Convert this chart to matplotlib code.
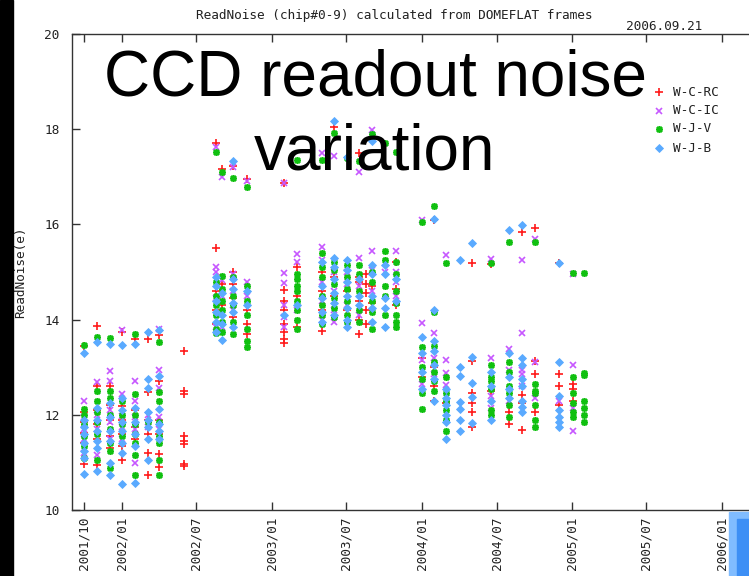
import matplotlib
matplotlib.use('Agg')
import matplotlib.pyplot as plt
import matplotlib.dates as mdates
from matplotlib.lines import Line2D
from matplotlib.patches import Rectangle
import datetime as dt

# ---------------- data ----------------
epochs = ['2001-10-01', '2001-11-02', '2001-12-02', '2002-01-01', '2002-02-02', '2002-03-04',
          '2002-04-02', '2002-06-01', '2002-08-17', '2002-09-01', '2002-09-29', '2002-11-02',
          '2003-01-31', '2003-03-02', '2003-05-02', '2003-06-01', '2003-07-02', '2003-08-01',
          '2003-08-17', '2003-09-01', '2003-10-03', '2003-10-31', '2004-01-02', '2004-01-31',
          '2004-03-01', '2004-04-03', '2004-05-01', '2004-06-17', '2004-07-31', '2004-08-31',
          '2004-10-03', '2004-12-01', '2005-01-02', '2005-01-31']

rc_values = [
    [13.45, 12.05, 11.85, 11.62, 11.4, 10.97],
    [13.87, 12.6, 12.1, 11.8, 11.5, 10.95],
    [12.6, 12.2, 11.9, 11.55, 11.3],
    [13.75, 12.19, 11.9, 11.6, 11.35, 11.04],
    [13.6, 12.1, 11.75, 11.5],
    [13.59, 12.47, 11.9, 11.6, 11.2, 10.74],
    [13.67, 12.71, 11.9, 11.6, 11.17, 10.91],
    [13.35, 12.5, 12.43, 11.55, 11.46, 11.38, 10.97, 10.92],
    [17.72, 15.5, 14.6, 14.2, 13.9],
    [17.17, 14.75, 14.3],
    [17.22, 15.0, 14.75, 14.45, 14.05],
    [16.95, 14.2, 13.9, 13.7],
    [16.88, 14.62, 14.4, 14.2, 13.9, 13.75, 13.6, 13.5],
    [15.1, 14.5, 13.85],
    [15.0, 14.6, 14.2, 13.77],
    [18.05, 14.9, 14.5],
    [14.6, 14.2],
    [17.49, 14.9, 14.8, 14.4, 14.0, 13.7],
    [14.95, 14.75, 14.55, 14.2, 13.9],
    [14.7, 14.35],
    [],
    [15.2, 14.65, 14.3],
    [13.2, 12.8],
    [16.09, 13.0, 12.6, 12.28],
    [12.25],
    [],
    [15.18, 13.13, 12.46, 12.24, 12.05, 11.75],
    [15.16, 12.5],
    [12.05, 11.8],
    [15.85, 12.42, 12.25, 11.68],
    [15.92, 13.12, 12.85, 12.05],
    [15.18, 12.85, 12.6, 12.2],
    [12.65, 12.55, 12.3],
    [],
]

ic_values = [
    [12.28, 11.95, 11.7, 11.5, 11.2],
    [12.68, 12.0, 11.7, 11.15],
    [12.91, 12.71, 12.1, 11.85, 11.5],
    [13.78, 12.43, 11.97, 11.75, 11.5],
    [12.71, 12.28, 11.95, 11.7, 10.99],
    [12.0, 11.75],
    [13.8, 12.94, 12.57, 11.95, 11.7],
    [],
    [17.62, 15.1, 15.0, 14.45, 13.85],
    [17.0, 14.83, 14.5, 13.85],
    [17.2, 14.95, 14.6, 14.2],
    [16.92, 14.79, 14.5],
    [16.86, 14.97, 14.76, 14.3, 14.05, 13.85],
    [15.37, 15.2, 14.2],
    [17.5, 15.52, 15.25, 14.8, 14.4, 14.0],
    [17.43, 15.0, 14.6, 14.2, 13.95],
    [15.0, 14.75, 14.3],
    [17.1, 15.29, 14.7, 14.1],
    [],
    [17.98, 15.45, 15.05, 14.6],
    [15.0],
    [15.45, 15.0, 14.8, 14.5],
    [16.09, 13.92, 13.15, 12.65],
    [13.71, 13.2, 12.85],
    [15.36, 13.15, 12.88, 12.63],
    [],
    [],
    [15.28, 13.2, 12.4, 12.15],
    [13.38, 12.95, 12.3],
    [15.25, 13.71, 12.95, 12.85, 12.6],
    [15.7, 13.1, 12.35],
    [12.3],
    [14.95, 13.04, 12.15, 11.65],
    [],
]

v_values = [
    [13.47, 12.13, 12.0, 11.8, 11.55, 11.35, 11.1],
    [13.64, 12.5, 12.3, 12.05, 11.85, 11.6, 11.04],
    [13.61, 12.5, 12.35, 12.0, 11.7, 11.4, 11.25, 10.88],
    [12.3, 12.0, 11.8, 11.55],
    [13.7, 12.43, 12.0, 11.8, 11.6, 11.4, 11.15, 10.74],
    [11.85],
    [13.52, 12.47, 12.3, 11.85, 11.55, 11.4, 11.04, 10.73],
    [],
    [17.53, 14.8, 14.5, 14.3, 14.1, 13.8, 13.72],
    [17.1, 14.92, 14.65, 14.4, 14.2, 13.95, 13.75],
    [16.98, 14.9, 14.5, 14.3, 13.95, 13.7],
    [16.78, 14.7, 14.4, 14.1, 13.8, 13.55, 13.43],
    [],
    [17.35, 14.95, 14.85, 14.7, 14.6, 14.4, 14.2, 14.0, 13.8],
    [17.35, 15.4, 15.1, 14.9, 14.5, 14.3, 14.1, 13.9],
    [17.91, 15.22, 15.05, 14.75, 14.45, 14.25, 14.05],
    [17.4, 15.15, 14.9, 14.65, 14.4, 14.1, 13.95],
    [17.33, 15.15, 14.95, 14.6, 14.2, 13.95],
    [],
    [17.9, 15.0, 14.8, 14.4, 14.15, 13.8],
    [17.7, 15.45, 15.25, 14.7, 14.5, 14.1],
    [17.53, 15.2, 14.95, 14.6, 14.35, 14.1, 13.95, 13.85],
    [16.05, 13.43, 13.0, 12.75, 12.45, 12.13],
    [16.39, 14.17, 13.45, 13.1, 12.9, 12.7, 12.5],
    [15.18, 12.8, 12.45, 12.3, 12.1, 11.9, 11.65],
    [],
    [],
    [15.18, 13.05, 12.8, 12.7, 12.55, 12.1, 12.0],
    [15.64, 13.1, 12.9, 12.6, 12.45, 12.2, 11.95],
    [],
    [15.64, 12.65, 12.5, 12.45, 12.2, 11.9, 11.75],
    [],
    [14.97, 12.8, 12.45, 12.25, 12.05, 11.95],
    [14.97, 12.88, 12.83, 12.3, 12.15, 12.0, 11.85],
]

b_values = [
    [13.29, 11.9, 11.75, 11.6, 11.4, 11.25, 11.1, 10.76],
    [13.52, 12.15, 11.9, 11.65, 11.45, 11.3, 10.81],
    [13.49, 12.25, 11.95, 11.65, 11.45, 10.99, 10.74],
    [13.47, 12.35, 12.1, 11.85, 11.65, 11.4, 11.2, 10.55],
    [13.49, 12.15, 11.85, 11.6, 11.35, 10.57],
    [13.73, 12.75, 12.56, 12.05, 11.9, 11.75, 11.5, 11.06],
    [13.78, 12.82, 12.13, 11.8, 11.65, 11.5],
    [],
    [14.9, 14.7, 14.4, 14.15, 13.95, 13.75],
    [14.55, 14.1, 13.9, 13.57],
    [17.33, 14.85, 14.65, 14.35, 14.15, 13.85],
    [14.6, 14.3],
    [14.1],
    [14.3],
    [15.2, 14.7, 14.45, 14.15, 13.95],
    [18.18, 15.3, 15.1, 14.85, 14.55, 14.35, 14.1],
    [17.42, 15.25, 15.05, 14.8, 14.5, 14.25, 14.0, 13.85],
    [14.85, 14.5, 14.3],
    [],
    [17.75, 15.15, 14.95, 14.5, 14.25, 13.95],
    [15.15, 14.95, 14.45, 14.25, 13.85],
    [14.85, 14.4],
    [13.64, 13.3, 12.9, 12.55],
    [16.12, 14.2, 13.55, 13.35, 13.05, 12.75, 12.3],
    [12.55, 12.35, 12.2, 12.0, 11.85, 11.49],
    [15.25, 13.0, 12.82, 12.27, 12.12, 11.89, 11.66],
    [15.6, 13.22, 12.67, 12.38, 11.83],
    [12.9, 12.6, 12.3, 11.9],
    [15.88, 13.3, 12.8, 12.55, 12.35],
    [15.99, 13.2, 13.05, 12.75, 12.6, 12.3, 12.17, 12.05],
    [],
    [15.18, 13.1, 12.4, 12.1, 11.95, 11.85, 11.75],
    [],
    [],
]

series_labels = ['W-C-RC', 'W-C-IC', 'W-J-V', 'W-J-B']
tick_dates = ['2001-10-01', '2002-01-01', '2002-07-01', '2003-01-01', '2003-07-01',
              '2004-01-01', '2004-07-01', '2005-01-01', '2005-07-01', '2006-01-01']
title_text = 'ReadNoise (chip#0-9) calculated from DOMEFLAT frames'
date_text = '2006.09.21'
ylabel_text = 'ReadNoise(e)'
overlay_line1 = 'CCD readout noise'
overlay_line2 = 'variation'

# ---------------- figure ----------------
W, H = 749, 576
fig = plt.figure(figsize=(W / 100, H / 100), dpi=100)
mono = 'DejaVu Sans Mono'
fs = 9.2
txt_color = '#222222'

def fx(px):
    return px / W

def fy(py):
    return 1 - py / H

ax_left, ax_right, ax_top, ax_bot = 72, 796.3, 34, 510
ax = fig.add_axes([fx(ax_left), fy(ax_bot), (ax_right - ax_left) / W, (ax_bot - ax_top) / H])

def flatten(vals):
    xs, ys = [], []
    for d, vs in zip(epochs, vals):
        for v in vs:
            xs.append(dt.datetime.strptime(d, '%Y-%m-%d'))
            ys.append(v)
    return xs, ys

styles = [
    dict(marker='+', color='#ff1a1a', ms=6, mew=1.2),
    dict(marker='x', color='#c657ff', ms=5, mew=1.2),
    dict(marker=(8, 2, 0), color='#10c010', ms=5, mew=1.2),
    dict(marker='D', color='#5aaaff', ms=4, mew=0.6),
]
for vals, st, lab in zip([rc_values, ic_values, v_values, b_values], styles, series_labels):
    xs, ys = flatten(vals)
    ax.plot(xs, ys, linestyle='none', marker=st['marker'], color=st['color'],
            markersize=st['ms'], markeredgewidth=st['mew'], label=lab, zorder=3)

ax.set_xlim(mdates.date2num(dt.datetime(2001, 9, 1)), mdates.date2num(dt.datetime(2006, 7, 1)))
ax.set_ylim(10, 20)
ax.set_yticks([10, 12, 14, 16, 18, 20])
tick_dt = [dt.datetime.strptime(t, '%Y-%m-%d') for t in tick_dates]
ax.set_xticks([mdates.date2num(t) for t in tick_dt])
ax.set_xticklabels([t.strftime('%Y/%m') for t in tick_dt], rotation=90,
                   fontfamily=mono, fontsize=fs, color=txt_color)
for lbl in ax.get_yticklabels():
    lbl.set_fontfamily(mono)
    lbl.set_fontsize(fs)
    lbl.set_color(txt_color)
ax.tick_params(axis='both', direction='in', length=6, width=1, color='#333333')
ax.tick_params(axis='x', top=True, pad=5)
ax.tick_params(axis='y', right=True, pad=9)
for sp in ax.spines.values():
    sp.set_color('#333333')
    sp.set_linewidth(1)

# title and date
fig.text(fx(196), fy(15), title_text, fontfamily=mono, fontsize=fs, ha='left', va='center', color=txt_color)
fig.text(fx(702), fy(27), date_text, fontfamily=mono, fontsize=fs, ha='right', va='center', color=txt_color)
fig.text(fx(21), fy(272), ylabel_text, fontfamily=mono, fontsize=fs, rotation=90,
         ha='center', va='center', color=txt_color)

# legend (manual placement)
leg_y = [92, 111, 129, 148]
for st, lab, yy in zip(styles, series_labels, leg_y):
    fig.add_artist(Line2D([fx(659)], [fy(yy)], transform=fig.transFigure, linestyle='none',
                          marker=st['marker'], color=st['color'], markersize=st['ms'],
                          markeredgewidth=st['mew']))
    fig.text(fx(673), fy(yy), lab, fontfamily=mono, fontsize=fs, ha='left', va='center', color=txt_color)

# big overlay text
fig.text(fx(375), fy(95), overlay_line1, fontfamily='Liberation Sans', fontsize=46,
         ha='center', va='baseline', color='black', zorder=10)
fig.text(fx(374), fy(170), overlay_line2, fontfamily='Liberation Sans', fontsize=46,
         ha='center', va='baseline', color='black', zorder=10)

# left black strip and bottom-right blue block
fig.add_artist(Rectangle((0, 0), fx(13), 1, transform=fig.transFigure, color='black', zorder=20))
fig.add_artist(Rectangle((fx(729), 0), fx(W - 729), fy(512),
                         transform=fig.transFigure, color='#80bcff', zorder=20))
fig.add_artist(Rectangle((fx(737), 0), fx(W - 737), fy(519),
                         transform=fig.transFigure, color='#3d8ff5', zorder=21))

fig.savefig('out.png', dpi=100)
